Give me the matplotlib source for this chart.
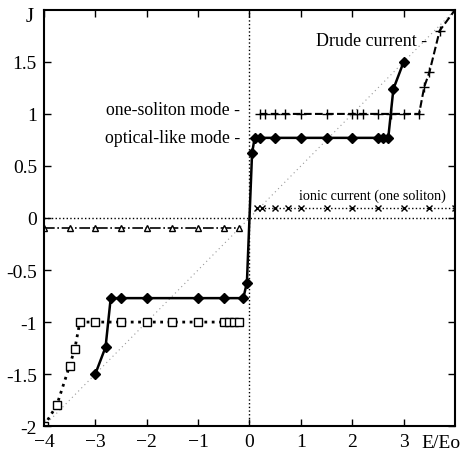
import matplotlib.pyplot as plt
import numpy as np

plt.rcParams['font.family'] = ['Liberation Serif', 'DejaVu Serif']

# optical-like mode (diamonds, solid)
opt_E = [-3.0, -2.8, -2.7, -2.5, -2.0, -1.0, -0.5, -0.12, -0.05,
         0.05, 0.1, 0.2, 0.5, 1.0, 1.5, 2.0, 2.5, 2.6, 2.7, 2.8, 3.0]
opt_J = [-1.5, -1.24, -0.77, -0.77, -0.77, -0.77, -0.77, -0.77, -0.62,
         0.62, 0.77, 0.77, 0.77, 0.77, 0.77, 0.77, 0.77, 0.77, 0.77, 1.24, 1.5]

# one-soliton mode (plus, dashed)
sol_E = [0.2, 0.3, 0.5, 0.7, 1.0, 1.5, 2.0, 2.1, 2.2, 2.5, 2.75, 3.0, 3.3, 3.4, 3.5, 3.7, 4.0]
sol_J = [1.0, 1.0, 1.0, 1.0, 1.0, 1.0, 1.0, 1.0, 1.0, 1.0, 1.0, 1.0, 1.0, 1.26, 1.4, 1.8, 2.0]

# ionic current (crosses, dotted)
ion_E = [0.15, 0.25, 0.5, 0.75, 1.0, 1.5, 2.0, 2.5, 3.0, 3.5, 4.0]
ion_J = [0.1] * len(ion_E)

# triangles, dash-dot
tri_E = [-4.0, -3.5, -3.0, -2.5, -2.0, -1.5, -1.0, -0.5, -0.2]
tri_J = [-0.1] * len(tri_E)

# squares, dotted
sq_E = [-4.0, -3.75, -3.5, -3.4, -3.3, -3.0, -2.5, -2.0, -1.5, -1.0, -0.5, -0.4, -0.3, -0.2]
sq_J = [-2.0, -1.8, -1.42, -1.26, -1.0, -1.0, -1.0, -1.0, -1.0, -1.0, -1.0, -1.0, -1.0, -1.0]

# Drude line J = E/2
drude_E = [-4.0, 4.0]
drude_J = [-2.0, 2.0]

fig = plt.figure(figsize=(4.62, 4.52), dpi=100)
ax = fig.add_axes([0.095, 0.055, 0.89, 0.921])

ax.plot(drude_E, drude_J, color='#999999', linestyle=(0, (1, 3)), linewidth=0.8)
ax.axhline(0, color='black', linestyle=':', linewidth=1.0)
ax.axvline(0, color='black', linestyle=':', linewidth=1.0)

ax.plot(sq_E, sq_J, color='black', linestyle=':', linewidth=2, marker='s',
        markersize=6, markerfacecolor='white', markeredgewidth=1)
ax.plot(tri_E, tri_J, color='black', linestyle='-.', linewidth=1.2, marker='^',
        markersize=5, markerfacecolor='white', markeredgewidth=1)
ax.plot(ion_E, ion_J, color='black', linestyle=':', linewidth=1, marker='x',
        markersize=5, markeredgewidth=1)
ax.plot(sol_E, sol_J, color='black', linestyle='--', linewidth=1.5, marker='+',
        markersize=7, markeredgewidth=1)
ax.plot(opt_E, opt_J, color='black', linestyle='-', linewidth=1.8, marker='D',
        markersize=5.5, markerfacecolor='black', markeredgewidth=1)

ax.set_xlim(-4, 4)
ax.set_ylim(-2, 2)
ax.set_xticks([-4, -3, -2, -1, 0, 1, 2, 3])
ax.set_yticks([-2, -1.5, -1, -0.5, 0, 0.5, 1, 1.5])
ax.set_yticklabels(['-2', '-1.5', '-1', '-0.5', '0', '0.5', '1', '1.5'])
ax.tick_params(direction='in', top=True, right=True, length=5, width=1,
               labelsize=14, pad=5)
for s in ax.spines.values():
    s.set_linewidth(1.5)

ax.text(-4.27, 1.94, 'J', fontsize=15, ha='center', va='center')
ax.text(3.72, -2.16, 'E/Eo', fontsize=14, ha='center', va='center')

ax.text(3.45, 1.71, 'Drude current -', fontsize=13, ha='right', va='center')
ax.text(-0.18, 1.04, 'one-soliton mode -', fontsize=12.8, ha='right', va='center')
ax.text(-0.18, 0.77, 'optical-like mode -', fontsize=12.8, ha='right', va='center')
ax.text(0.97, 0.22, 'ionic current (one soliton)', fontsize=10.2, ha='left', va='center')

plt.savefig('out.png')
